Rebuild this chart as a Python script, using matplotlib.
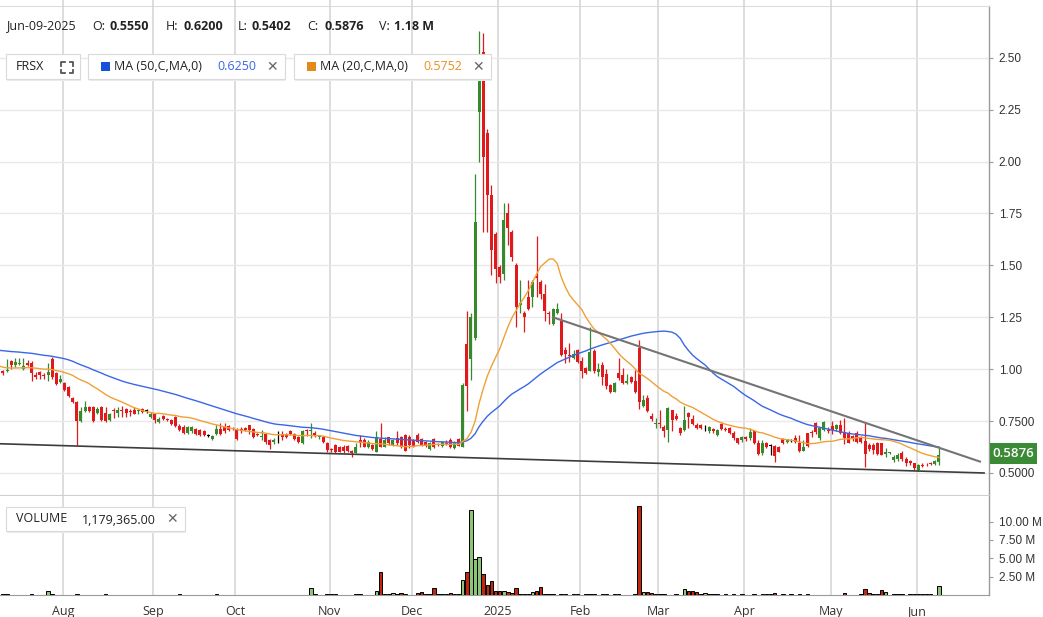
import numpy as np
import pandas as pd
import matplotlib
matplotlib.use("Agg")
import matplotlib.pyplot as plt
from matplotlib.patches import Rectangle
from matplotlib.lines import Line2D

# ---- data (FRSX daily, Jul-10-2024 .. Jun-09-2025) ----
holidays = ["2024-09-02", "2024-11-28", "2024-12-25", "2025-01-01", "2025-01-09",
            "2025-01-20", "2025-02-17", "2025-04-18", "2025-05-26"]

opens = [
    0.985, 0.99, 0.99, 1.04, 1.02, 1.025, 1.00, 1.03, 1.03, 0.97,
    0.985, 0.97, 0.97, 1.05, 0.98, 0.94, 0.935, 0.915, 0.86, 0.84,
    0.75, 0.80, 0.82, 0.82, 0.79, 0.82, 0.79, 0.755, 0.805, 0.79,
    0.805, 0.81, 0.80, 0.805, 0.80, 0.81, 0.80, 0.77, 0.785, 0.745,
    0.775, 0.76, 0.755, 0.77, 0.725, 0.72, 0.695, 0.70, 0.71, 0.705,
    0.70, 0.68, 0.665, 0.69, 0.71, 0.72, 0.725, 0.715, 0.71, 0.71,
    0.715, 0.73, 0.71, 0.69, 0.675, 0.69, 0.66, 0.65, 0.685, 0.69,
    0.69, 0.70, 0.69, 0.675, 0.645, 0.705, 0.70, 0.695, 0.675, 0.675,
    0.645, 0.615, 0.635, 0.625, 0.627, 0.63, 0.608, 0.598, 0.66, 0.66,
    0.624, 0.635, 0.603, 0.662, 0.627, 0.672, 0.635, 0.667, 0.672, 0.683,
    0.675, 0.66, 0.683, 0.662, 0.65, 0.615, 0.662, 0.64, 0.63, 0.645,
    0.66, 0.62, 0.662, 0.627, 1.12, 1.05, 1.15, 2.24, 2.526, 2.136,
    1.839, 1.651, 1.494, 1.46, 1.75, 1.66, 1.50, 1.31, 1.27, 1.35,
    1.35, 1.45, 1.42, 1.36, 1.27, 1.22, 1.27, 1.234, 1.092, 1.069,
    1.052, 1.092, 1.04, 1.004, 0.993, 1.089, 0.988, 1.02, 0.977, 0.924,
    0.892, 0.98, 0.972, 0.932, 0.964, 0.943, 1.10, 0.823, 0.86, 0.775,
    0.736, 0.742, 0.723, 0.707, 0.803, 0.775, 0.715, 0.707, 0.787, 0.76,
    0.731, 0.73, 0.715, 0.70, 0.71, 0.683, 0.736, 0.712, 0.715, 0.694,
    0.667, 0.659, 0.675, 0.667, 0.702, 0.646, 0.597, 0.646, 0.63, 0.63,
    0.627, 0.662, 0.651, 0.656, 0.667, 0.646, 0.608, 0.691, 0.699, 0.739,
    0.667, 0.707, 0.705, 0.728, 0.71, 0.731, 0.699, 0.691, 0.678, 0.691,
    0.672, 0.656, 0.635, 0.635, 0.646, 0.643, 0.592, 0.595, 0.563, 0.566,
    0.598, 0.566, 0.559, 0.547, 0.514, 0.54, 0.543, 0.548, 0.543, 0.555,
]
highs = [
    1.00, 0.995, 1.05, 1.045, 1.055, 1.055, 1.055, 1.045, 1.04, 0.985,
    0.99, 0.98, 1.03, 1.06, 0.985, 0.97, 0.94, 0.92, 0.865, 0.845,
    0.82, 0.845, 0.825, 0.825, 0.82, 0.825, 0.82, 0.79, 0.815, 0.82,
    0.825, 0.815, 0.81, 0.82, 0.81, 0.815, 0.81, 0.795, 0.79, 0.77,
    0.78, 0.765, 0.76, 0.775, 0.735, 0.73, 0.725, 0.725, 0.715, 0.71,
    0.705, 0.69, 0.685, 0.73, 0.74, 0.74, 0.73, 0.72, 0.715, 0.72,
    0.72, 0.73, 0.715, 0.695, 0.705, 0.695, 0.665, 0.67, 0.70, 0.70,
    0.695, 0.705, 0.695, 0.68, 0.705, 0.71, 0.74, 0.70, 0.685, 0.68,
    0.65, 0.62, 0.64, 0.63, 0.637, 0.635, 0.612, 0.645, 0.683, 0.667,
    0.66, 0.64, 0.704, 0.739, 0.675, 0.675, 0.665, 0.704, 0.68, 0.688,
    0.683, 0.665, 0.694, 0.67, 0.655, 0.65, 0.667, 0.645, 0.65, 0.66,
    0.667, 0.655, 0.667, 0.932, 1.28, 1.27, 1.94, 2.63, 2.62, 2.157,
    1.887, 1.66, 1.50, 1.80, 1.80, 1.67, 1.51, 1.43, 1.28, 1.43,
    1.43, 1.64, 1.43, 1.41, 1.28, 1.295, 1.32, 1.27, 1.105, 1.125,
    1.092, 1.095, 1.06, 1.01, 1.205, 1.096, 1.028, 1.036, 1.00, 0.93,
    0.94, 1.052, 1.004, 0.977, 0.968, 0.996, 1.14, 0.876, 0.875, 0.787,
    0.763, 0.803, 0.73, 0.816, 0.805, 0.787, 0.723, 0.823, 0.795, 0.78,
    0.74, 0.735, 0.73, 0.725, 0.715, 0.71, 0.742, 0.72, 0.72, 0.70,
    0.67, 0.68, 0.68, 0.715, 0.707, 0.66, 0.66, 0.65, 0.64, 0.635,
    0.63, 0.667, 0.665, 0.665, 0.683, 0.683, 0.66, 0.694, 0.705, 0.747,
    0.723, 0.752, 0.723, 0.75, 0.735, 0.755, 0.763, 0.70, 0.685, 0.70,
    0.68, 0.739, 0.645, 0.643, 0.65, 0.646, 0.62, 0.60, 0.585, 0.595,
    0.605, 0.575, 0.565, 0.55, 0.545, 0.548, 0.55, 0.555, 0.565, 0.62,
]
lows = [
    0.98, 0.97, 0.985, 1.00, 1.01, 1.02, 0.995, 1.015, 0.945, 0.955,
    0.955, 0.955, 0.945, 0.955, 0.925, 0.935, 0.895, 0.865, 0.835, 0.635,
    0.745, 0.795, 0.795, 0.745, 0.785, 0.75, 0.745, 0.75, 0.765, 0.77,
    0.77, 0.77, 0.775, 0.785, 0.785, 0.79, 0.79, 0.765, 0.74, 0.74,
    0.755, 0.75, 0.73, 0.72, 0.70, 0.69, 0.69, 0.695, 0.685, 0.68,
    0.68, 0.675, 0.66, 0.685, 0.685, 0.695, 0.70, 0.705, 0.66, 0.695,
    0.70, 0.69, 0.67, 0.68, 0.66, 0.64, 0.615, 0.64, 0.645, 0.66,
    0.67, 0.685, 0.66, 0.645, 0.64, 0.68, 0.67, 0.675, 0.665, 0.645,
    0.60, 0.60, 0.595, 0.60, 0.595, 0.60, 0.575, 0.595, 0.627, 0.624,
    0.62, 0.61, 0.60, 0.625, 0.625, 0.635, 0.63, 0.635, 0.62, 0.608,
    0.62, 0.625, 0.645, 0.63, 0.625, 0.61, 0.618, 0.63, 0.625, 0.635,
    0.618, 0.615, 0.63, 0.625, 0.797, 0.95, 1.14, 2.00, 1.662, 1.662,
    1.453, 1.413, 1.413, 1.43, 1.60, 1.52, 1.205, 1.27, 1.18, 1.285,
    1.30, 1.35, 1.34, 1.23, 1.22, 1.215, 1.265, 1.063, 1.028, 1.036,
    1.047, 1.03, 0.956, 0.975, 0.99, 0.983, 0.967, 0.924, 0.903, 0.884,
    0.888, 0.95, 0.93, 0.93, 0.935, 0.887, 0.807, 0.816, 0.795, 0.752,
    0.715, 0.715, 0.675, 0.65, 0.70, 0.755, 0.683, 0.70, 0.715, 0.73,
    0.71, 0.71, 0.70, 0.695, 0.695, 0.68, 0.705, 0.70, 0.69, 0.66,
    0.64, 0.65, 0.655, 0.66, 0.64, 0.587, 0.587, 0.62, 0.587, 0.555,
    0.60, 0.64, 0.645, 0.65, 0.645, 0.603, 0.605, 0.627, 0.675, 0.69,
    0.66, 0.70, 0.695, 0.69, 0.70, 0.69, 0.64, 0.643, 0.655, 0.646,
    0.645, 0.527, 0.605, 0.592, 0.587, 0.585, 0.575, 0.59, 0.555, 0.56,
    0.56, 0.535, 0.54, 0.515, 0.51, 0.53, 0.535, 0.54, 0.54, 0.5402,
]
closes = [
    0.995, 0.98, 0.995, 1.02, 1.035, 1.03, 1.015, 1.02, 0.98, 0.96,
    0.97, 0.965, 0.985, 0.96, 0.93, 0.955, 0.90, 0.87, 0.84, 0.75,
    0.80, 0.82, 0.80, 0.75, 0.81, 0.755, 0.75, 0.785, 0.80, 0.805,
    0.80, 0.79, 0.795, 0.785, 0.805, 0.795, 0.80, 0.785, 0.755, 0.76,
    0.76, 0.755, 0.735, 0.725, 0.705, 0.695, 0.72, 0.72, 0.69, 0.685,
    0.685, 0.68, 0.68, 0.71, 0.69, 0.70, 0.705, 0.71, 0.665, 0.70,
    0.705, 0.705, 0.675, 0.685, 0.68, 0.65, 0.635, 0.66, 0.685, 0.675,
    0.675, 0.69, 0.665, 0.65, 0.70, 0.70, 0.705, 0.68, 0.68, 0.65,
    0.61, 0.61, 0.60, 0.603, 0.608, 0.608, 0.595, 0.627, 0.643, 0.624,
    0.65, 0.615, 0.672, 0.627, 0.66, 0.643, 0.66, 0.643, 0.627, 0.608,
    0.635, 0.627, 0.651, 0.635, 0.63, 0.645, 0.624, 0.635, 0.647, 0.64,
    0.627, 0.65, 0.63, 0.924, 0.92, 1.25, 1.71, 2.40, 2.024, 1.839,
    1.574, 1.481, 1.446, 1.72, 1.68, 1.54, 1.30, 1.32, 1.25, 1.29,
    1.42, 1.44, 1.36, 1.28, 1.265, 1.29, 1.29, 1.068, 1.073, 1.064,
    1.073, 1.036, 0.993, 0.98, 1.084, 0.993, 1.003, 0.964, 0.919, 0.892,
    0.935, 0.956, 0.935, 0.945, 0.94, 0.892, 0.844, 0.852, 0.80, 0.758,
    0.74, 0.736, 0.70, 0.811, 0.755, 0.76, 0.694, 0.755, 0.768, 0.735,
    0.715, 0.718, 0.715, 0.72, 0.70, 0.707, 0.71, 0.708, 0.694, 0.667,
    0.643, 0.675, 0.662, 0.699, 0.643, 0.592, 0.643, 0.627, 0.63, 0.58,
    0.603, 0.643, 0.662, 0.656, 0.651, 0.608, 0.627, 0.63, 0.691, 0.699,
    0.715, 0.747, 0.70, 0.705, 0.731, 0.694, 0.667, 0.646, 0.662, 0.651,
    0.651, 0.592, 0.614, 0.611, 0.592, 0.587, 0.603, 0.598, 0.579, 0.585,
    0.566, 0.547, 0.547, 0.522, 0.539, 0.535, 0.541, 0.545, 0.558, 0.5876,
]
# volume in millions of shares
volumes = [
    0, 0.08, 0.08, 0, 0, 0, 0, 0, 0.08, 0,
    0, 0, 0.59, 0.08, 0, 0, 0, 0, 0, 0.08,
    0, 0, 0, 0, 0, 0, 0.08, 0, 0, 0,
    0, 0, 0, 0, 0, 0, 0, 0, 0, 0,
    0, 0, 0, 0, 0.08, 0, 0, 0, 0, 0,
    0, 0, 0, 0.08, 0, 0, 0, 0, 0, 0,
    0, 0, 0, 0, 0, 0, 0, 0, 0, 0,
    0, 0, 0, 0, 0, 0, 0.9, 0.08, 0, 0,
    0.08, 0.08, 0.08, 0, 0, 0, 0, 0.08, 0.08, 0,
    0, 0, 0.55, 3.1, 0.08, 0.08, 0.23, 0.08, 0.23, 0.08,
    0, 0, 0.23, 0.45, 0.15, 0.2, 0.9, 0.08, 0.08, 0.08,
    0.23, 0.08, 0.08, 2.1, 3.1, 11.6, 4.9, 5.2, 2.8, 1.3,
    1.9, 0.55, 0.6, 0.6, 0.36, 0.23, 0.9, 0.2, 0.15, 0.15,
    0.36, 0.59, 1.05, 0.08, 0.08, 0.08, 0, 0.2, 0.08, 0,
    0.08, 0.08, 0, 0.08, 0.08, 0.08, 0, 0.08, 0.08, 0,
    0.2, 0.08, 0, 0, 0, 0.08, 12.1, 0.36, 0.36, 0.23,
    0.08, 0.08, 0.08, 0, 0, 0.08, 0, 0.77, 0.55, 0.55,
    0.36, 0.08, 0.23, 0.08, 0.08, 0.08, 0, 0.08, 0, 0.08,
    0, 0.08, 0, 0, 0.08, 0, 0.08, 0.08, 0.08, 0.23,
    0, 0.08, 0, 0.08, 0, 0.08, 0, 0.08, 0, 0,
    0, 0, 0, 0, 0, 0, 0.23, 0, 0, 0,
    0.08, 0.77, 0.23, 0.08, 0.08, 0.64, 0.36, 0, 0.08, 0.08,
    0.08, 0, 0.08, 0.08, 0.08, 0.08, 0.08, 0.08, 0, 1.18,
]
# closes before the visible window, only used to warm up the moving averages
pre_closes = [
    1.08, 1.10, 1.12, 1.09, 1.11, 1.13, 1.10, 1.08, 1.12, 1.14, 1.11, 1.09, 1.10, 1.12, 1.13, 1.11,
    1.15, 1.18, 1.20, 1.22, 1.19, 1.17, 1.21, 1.18, 1.16, 1.19, 1.17, 1.15, 1.18, 1.16,
    1.10, 1.06, 1.04, 1.03, 1.02, 1.00, 1.01, 0.99, 1.00, 1.02, 1.01, 0.99, 1.00, 1.02, 1.03,
    1.01, 1.00, 0.99, 1.00,
]
# trend lines drawn on the chart: (date, price) end points
upper_trend = [("2025-01-23", 1.25), ("2025-06-23", 0.555)]
lower_trend = [("2024-07-10", 0.641), ("2025-06-24", 0.500)]

month_labels = ["Aug", "Sep", "Oct", "Nov", "Dec", "2025", "Feb", "Mar", "Apr", "May", "Jun"]
price_ticks = [0.5, 0.75, 1.0, 1.25, 1.5, 1.75, 2.0, 2.25, 2.5]
price_tick_labels = ["0.5000", "0.7500", "1.00", "1.25", "1.50", "1.75", "2.00", "2.25", "2.50"]
vol_ticks = [2.5, 5.0, 7.5, 10.0]
vol_tick_labels = ["2.50 M", "5.00 M", "7.50 M", "10.00 M"]

# ---- derived ----
dates = pd.bdate_range("2024-07-10", "2025-06-09")
dates = dates[~dates.isin(pd.to_datetime(holidays))]
n = len(closes)
x = np.arange(n)
o = np.array(opens); h = np.array(highs); l = np.array(lows); c = np.array(closes)
vol = np.array(volumes)

all_c = pd.Series(pre_closes + closes)
ma50 = all_c.rolling(50).mean().values[-n:]
ma20 = all_c.rolling(20).mean().values[-n:]

def date_pos(d):
    # position on the trading-day axis (extrapolates past the last bar)
    d = pd.Timestamp(d)
    if d <= dates[-1]:
        return float(np.searchsorted(dates, d))
    extra = len(pd.bdate_range(dates[-1], d)) - 1
    return float(n - 1 + extra)

month_start = [i for i in range(1, n) if dates[i].month != dates[i - 1].month]

GREEN = "#378a2c"
RED = "#e0191c"
VGREEN = "#8cc47a"
VRED = "#c1270d"
BLUE = "#3a66e8"
ORANGE = "#f0a035"
GRIDV = "#d3d3d3"
GRIDH = "#e9e9e9"

W, H = 1043, 617
fig = plt.figure(figsize=(W / 100, H / 100), dpi=100)
fig.patch.set_facecolor("white")

def fx(px):
    return px / W

def fy(py):
    return 1 - py / H

def axes_px(x0, y0, x1, y1):
    return fig.add_axes([fx(x0), fy(y1), fx(x1) - fx(x0), fy(y0) - fy(y1)])

ax = axes_px(0, 6, 989, 495)
axv = axes_px(0, 496, 989, 595)

xmin, xmax = 0.29, 241.2
for a in (ax, axv):
    a.set_xlim(xmin, xmax)
    a.set_facecolor("white")
    for i in month_start:
        a.axvline(i - 0.4, color=GRIDV, lw=1.1, zorder=0)

ax.set_ylim(0.394, 2.7495)
axv.set_ylim(0, 13.5)

for p in price_ticks:
    ax.axhline(p, color=GRIDH, lw=1.0, zorder=0)

# candles
up = c > o
dn = c < o
cols = np.where(up, GREEN, np.where(dn, RED, "black"))
bottoms = np.minimum(o, c)
heights = np.maximum(np.abs(c - o), 0.004)
ax.vlines(x, l, h, colors=cols, lw=0.9, zorder=3)
ax.bar(x, heights, bottom=bottoms, width=0.74, color=cols, lw=0, zorder=4)

# moving averages
ax.plot(x, ma50, color=BLUE, lw=1.0, zorder=5)
ax.plot(x, ma20, color=ORANGE, lw=1.0, zorder=5)

# trend lines
ax.plot([date_pos(d) for d, _ in upper_trend], [p for _, p in upper_trend],
        color="#747474", lw=1.5, zorder=6)
ax.plot([date_pos(d) for d, _ in lower_trend], [p for _, p in lower_trend],
        color="#3c3c3c", lw=1.2, zorder=6)

# volume
mask = vol > 0
vcols = np.where(c >= o, VGREEN, VRED)
axv.bar(x[mask], vol[mask], width=0.85, color=vcols[mask], edgecolor="black", lw=0.7, zorder=3)

# axes styling
for a in (ax, axv):
    for s in ("left", "top", "bottom"):
        a.spines[s].set_visible(False)
    a.spines["right"].set_color("#9a9a9a")
    a.spines["right"].set_linewidth(1.0)
    a.yaxis.tick_right()
    a.tick_params(axis="y", direction="out", length=3, width=0.8, color="#9a9a9a",
                  labelsize=8.5, labelcolor="#333333", pad=4)

ax.spines["top"].set_visible(True)
ax.spines["top"].set_color("#dcdcdc")
ax.spines["bottom"].set_visible(True)
ax.spines["bottom"].set_color("#cfcfcf")
axv.spines["bottom"].set_visible(True)
axv.spines["bottom"].set_color("#9a9a9a")

ax.set_yticks(price_ticks)
ax.set_yticklabels(price_tick_labels, family="Liberation Sans")
axv.set_yticks(vol_ticks)
axv.set_yticklabels(vol_tick_labels, family="Liberation Sans")

ax.set_xticks([])
axv.set_xticks([i - 0.4 for i in month_start])
axv.set_xticklabels(month_labels, family="Open Sans", fontsize=9, color="#333333")
axv.tick_params(axis="x", length=0, pad=7)

# gridlines continue above the plot top
for i in month_start:
    xp = (i - 0.4 - xmin) / (xmax - xmin) * 989
    fig.add_artist(Line2D([fx(xp), fx(xp)], [fy(0), fy(6)], color=GRIDV, lw=1.1,
                          transform=fig.transFigure))

# ---- header text ----
FONT = "Open Sans"
ty = fy(26)
fig.text(fx(6), ty, "Jun-09-2025", fontsize=9, family=FONT, color="#222222", va="center")
header = [(92, "O:", "0.5550", 18), (166, "H:", "0.6200", 18), (238, "L:", "0.5402", 13),
          (307, "C:", "0.5876", 17), (379, "V:", "1.18 M", 15)]
for xp, lab, val, off in header:
    fig.text(fx(xp), ty, lab, fontsize=9, family=FONT, color="#222222", va="center")
    fig.text(fx(xp + off), ty, val, fontsize=9, family=FONT, weight="bold", color="#222222", va="center")

def box(x0, y0, x1, y1):
    fig.add_artist(Rectangle((fx(x0 + 1), fy(y1 + 2)), fx(x1) - fx(x0), fy(y0) - fy(y1),
                             transform=fig.transFigure, fc="#ebebeb", ec="none", zorder=8))
    fig.add_artist(Rectangle((fx(x0), fy(y1)), fx(x1) - fx(x0), fy(y0) - fy(y1),
                             transform=fig.transFigure, fc="white", ec="#dadada", lw=0.8, zorder=9))

def close_x(xp, yp):
    fig.text(fx(xp), fy(yp), "\u2715", fontsize=10, family="DejaVu Sans", color="#666666",
             va="center", ha="center", weight="bold", zorder=10)

ly = 67
box(6, 54, 80, 79)
fig.text(fx(16), fy(ly), "FRSX", fontsize=9, family=FONT, color="#222222", va="center", zorder=10)
# expand icon
cx0, cx1, cy0, cy1, k = 61, 73, 62, 73, 3.5
for (px, py, dx, dy) in [(cx0, cy0, 1, 1), (cx1, cy0, -1, 1), (cx0, cy1, 1, -1), (cx1, cy1, -1, -1)]:
    fig.add_artist(Line2D([fx(px + dx * k), fx(px), fx(px)], [fy(py), fy(py), fy(py + dy * k)],
                          color="#555555", lw=1.3, transform=fig.transFigure, zorder=10))

box(88, 54, 285, 79)
fig.add_artist(Rectangle((fx(101), fy(71)), fx(9), fy(0) - fy(9), transform=fig.transFigure,
                         fc="#1a4fd8", ec="none", zorder=10))
fig.text(fx(114), fy(ly), "MA (50,C,MA,0)", fontsize=9, family=FONT, color="#222222", va="center", zorder=10)
fig.text(fx(217), fy(ly), "0.6250", fontsize=9, family=FONT, color="#3a66e8", va="center", zorder=10)
close_x(272, ly)

box(294, 54, 491, 79)
fig.add_artist(Rectangle((fx(307), fy(71)), fx(9), fy(0) - fy(9), transform=fig.transFigure,
                         fc="#e08a1c", ec="none", zorder=10))
fig.text(fx(320), fy(ly), "MA (20,C,MA,0)", fontsize=9, family=FONT, color="#222222", va="center", zorder=10)
fig.text(fx(423), fy(ly), "0.5752", fontsize=9, family=FONT, color="#e8901e", va="center", zorder=10)
close_x(478, ly)

box(6, 507, 185, 531)
fig.text(fx(16), fy(519), "VOLUME", fontsize=9, family=FONT, color="#222222", va="center", zorder=10)
fig.text(fx(82), fy(520), "1,179,365.00", fontsize=9, family=FONT, color="#222222", va="center", zorder=10)
close_x(172, 519)

# last price label
fig.add_artist(Rectangle((fx(990), fy(464)), fx(47), fy(0) - fy(21), transform=fig.transFigure,
                         fc="#3b8a35", ec="none", zorder=10))
fig.text(fx(1013.5), fy(453.5), "0.5876", fontsize=9.5, family="Open Sans", weight="semibold",
         color="white", va="center", ha="center", zorder=11)

fig.savefig("out.png", dpi=100)
